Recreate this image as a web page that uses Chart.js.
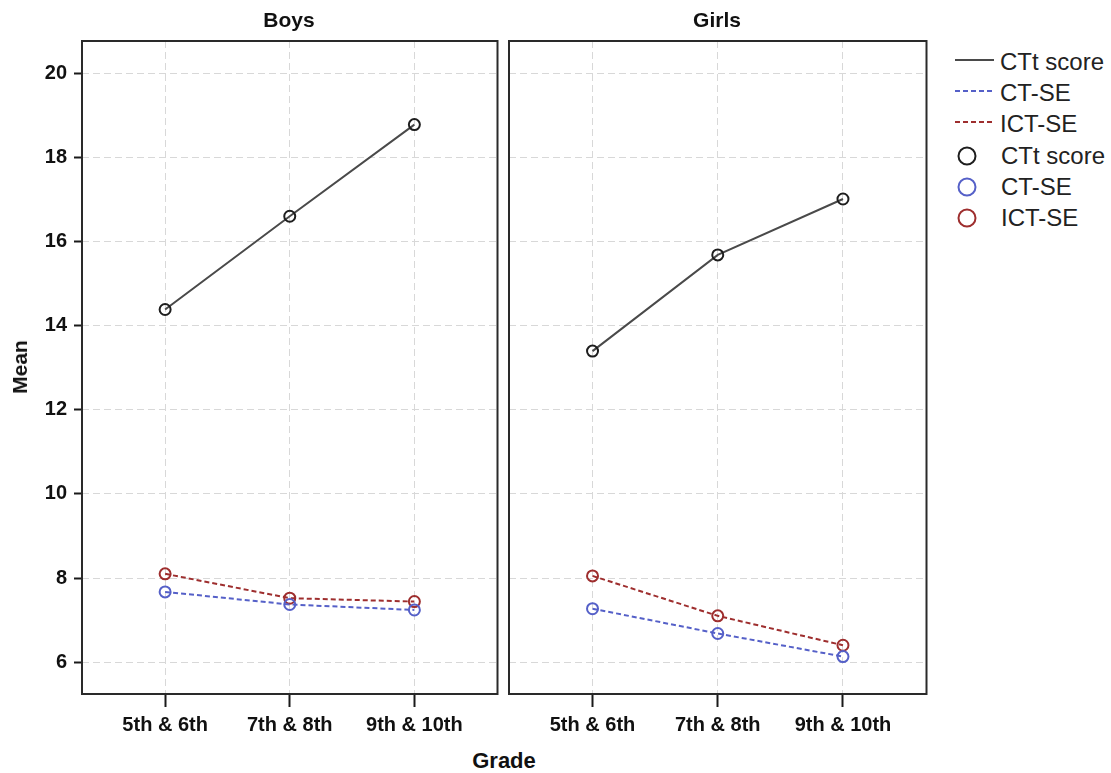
<!DOCTYPE html>
<html><head><meta charset="utf-8">
<script src="https://cdn.jsdelivr.net/npm/chart.js@4"></script>
<style>
body{margin:0;background:#fff;width:1111px;height:773px;position:relative;overflow:hidden;font-family:"Liberation Sans",Arial,sans-serif;}
.t{position:absolute;font-weight:bold;color:#111;white-space:nowrap;transform:translate(-50%,-50%);}
canvas{position:absolute;top:0;}
.lg{position:absolute;height:30px;display:flex;align-items:center;font-size:24px;color:#222;white-space:nowrap;}
</style></head>
<body>
<canvas id="girls" width="434" height="740" style="left:500px"></canvas>
<canvas id="boys" width="505" height="740" style="left:0"></canvas>
<div class="t" id="tBoys" style="left:289px;top:20px;font-size:21px"></div>
<div class="t" id="tGirls" style="left:717px;top:20px;font-size:21px"></div>
<div class="t" id="tMean" style="left:20px;top:367px;font-size:21px;transform:translate(-50%,-50%) rotate(-90deg)">Mean</div>
<div class="t" id="tGrade" style="left:504px;top:761px;font-size:22px">Grade</div>
<div id="legend"></div>
<script>
const grades = ["5th & 6th", "7th & 8th", "9th & 10th"];
const panels = ["Boys", "Girls"];
const seriesNames = ["CTt score", "CT-SE", "ICT-SE"];
const yTicks = [6, 8, 10, 12, 14, 16, 18, 20];
const boysCTt = [14.39, 16.61, 18.79];
const boysCTSE = [7.67, 7.37, 7.24];
const boysICTSE = [8.10, 7.52, 7.44];
const girlsCTt = [13.40, 15.69, 17.02];
const girlsCTSE = [7.27, 6.68, 6.13];
const girlsICTSE = [8.05, 7.10, 6.40];

const lineColors = ["#4a4a4a", "#5560c8", "#9e2e2e"];
const pointColors = ["#1e1e1e", "#5560c8", "#9e2e2e"];
const dashes = [[], [5, 3], [5, 3]];

document.getElementById('tBoys').textContent = panels[0];
document.getElementById('tGirls').textContent = panels[1];

const frame = {
  id: 'frame',
  beforeDatasetsDraw(c) {
    const a = c.chartArea, ctx = c.ctx;
    ctx.save();
    ctx.strokeStyle = '#2a2a2a';
    ctx.lineWidth = 2;
    ctx.setLineDash([]);
    ctx.strokeRect(a.left, a.top, a.right - a.left, a.bottom - a.top);
    ctx.restore();
  }
};

function makeDatasets(series) {
  return series.map((vals, i) => ({
    label: seriesNames[i],
    data: vals.map((v, k) => ({ x: k, y: v })),
    borderColor: lineColors[i],
    borderWidth: 2,
    borderDash: dashes[i],
    pointRadius: 5.5,
    pointBorderWidth: 2,
    pointBorderColor: pointColors[i],
    pointBackgroundColor: 'rgba(0,0,0,0)',
    tension: 0
  }));
}

const tickFont = { family: "'Liberation Sans', Arial, sans-serif", size: 20, weight: 'bold' };

function makeChart(id, series, showY) {
  return new Chart(document.getElementById(id), {
    type: 'line',
    data: { datasets: makeDatasets(series) },
    plugins: [frame],
    options: {
      responsive: false,
      animation: false,
      layout: { padding: { left: 0, right: 0, top: 41, bottom: 0 } },
      plugins: { legend: { display: false }, tooltip: { enabled: false }, title: { display: false } },
      scales: {
        x: {
          type: 'linear',
          min: -0.667, max: 2.667,
          afterBuildTicks: s => { s.ticks = grades.map((g, i) => ({ value: i })); },
          afterFit: s => { s.height = 46; },
          ticks: { callback: v => grades[v], color: '#111', font: tickFont, padding: 6, maxRotation: 0, autoSkip: false },
          grid: { color: '#d8d8d8', lineWidth: 1, drawTicks: true, tickLength: 13, tickColor: '#1a1a1a', tickWidth: 2 },
          border: { display: false, dash: [7, 4] }
        },
        y: {
          min: 5.24, max: 20.78,
          afterBuildTicks: s => { s.ticks = yTicks.map(v => ({ value: v })); },
          afterFit: s => { s.width = showY ? 82 : 9; },
          ticks: { display: showY, color: '#111', font: tickFont, padding: 7 },
          grid: { color: '#d8d8d8', lineWidth: 1, drawTicks: showY, tickLength: 8, tickColor: '#1a1a1a', tickWidth: 2 },
          border: { display: false, dash: [7, 4] }
        }
      }
    }
  });
}

makeChart('boys', [boysCTt, boysCTSE, boysICTSE], true);
makeChart('girls', [girlsCTt, girlsCTSE, girlsICTSE], false);

// legend
const lg = document.getElementById('legend');
const rowCenter0 = 62, rowStep = 31.2;
let row = 0;
seriesNames.forEach((n, i) => {
  const d = document.createElement('div');
  d.className = 'lg';
  d.style.top = (rowCenter0 + row * rowStep - 15) + 'px';
  d.style.left = '955px';
  const da = dashes[i].length ? `stroke-dasharray="${dashes[i].join(',')}"` : '';
  d.innerHTML = `<svg width="39" height="8" style="margin-right:6px;position:relative;top:-2px"><line x1="0" y1="4" x2="39" y2="4" stroke="${lineColors[i]}" stroke-width="2" ${da}/></svg><span>${n}</span>`;
  lg.appendChild(d); row++;
});
seriesNames.forEach((n, i) => {
  const d = document.createElement('div');
  d.className = 'lg';
  d.style.top = (rowCenter0 + row * rowStep - 15) + 'px';
  d.style.left = '957px';
  d.innerHTML = `<svg width="20" height="20" style="margin-right:24px"><circle cx="10" cy="10" r="8.5" fill="none" stroke="${pointColors[i]}" stroke-width="2"/></svg><span>${n}</span>`;
  lg.appendChild(d); row++;
});
</script>
</body></html>
